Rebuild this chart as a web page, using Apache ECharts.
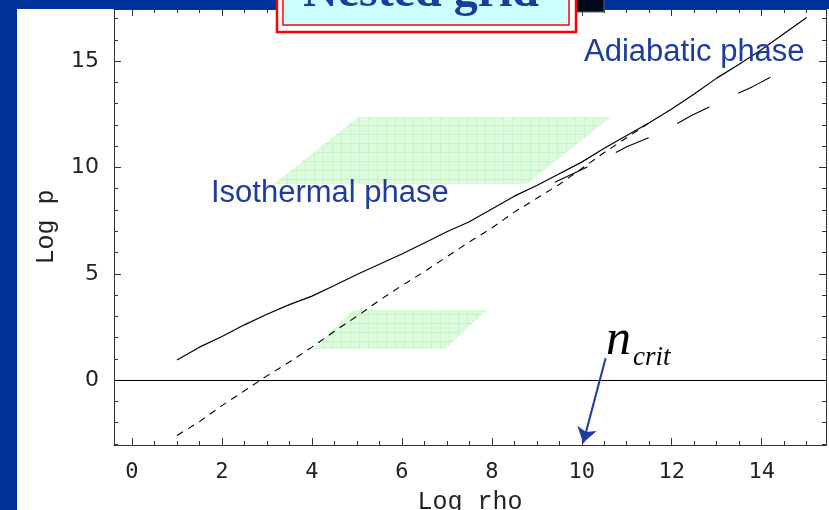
<!DOCTYPE html>
<html>
  <head>
    <meta charset="UTF-8" />
    <title>Log p vs Log rho</title>
    <script src="https://cdn.jsdelivr.net/npm/echarts@6/dist/echarts.min.js"></script>
    <style>
      body { margin: 0; background: #003399; overflow: hidden; }
      #panel { position: absolute; left: 17px; top: 9px; width: 812px; height: 501px; background: #fff; }
      #chart { position: absolute; left: 0; top: 0; width: 829px; height: 510px; }
    </style>
  </head>
  <body>
    <div id="panel"></div>
    <div id="chart"></div>
  </body>
  <script>
// ---- data ----
const rhoSolid = [1, 1.5, 2, 2.5, 3, 3.5, 4, 4.5, 5, 5.5, 6, 6.5, 7, 7.5, 8, 8.5, 9, 9.5, 10, 10.5, 11, 11.5, 12, 12.5, 13, 13.5, 14, 14.5, 15];
const pSolid = [0.95, 1.55, 2.05, 2.6, 3.1, 3.55, 3.95, 4.45, 4.97, 5.45, 5.93, 6.45, 6.98, 7.45, 8.05, 8.65, 9.15, 9.7, 10.25, 10.9, 11.5, 12.1, 12.75, 13.45, 14.2, 14.85, 15.55, 16.3, 17.05];

const rhoDash = [1, 1.5, 2, 2.5, 3, 3.5, 4, 4.5, 5, 5.5, 6, 6.5, 7, 7.5, 8, 8.5, 9, 9.5, 10, 10.5, 11, 11.5];
const pDash = [-2.6, -1.95, -1.2, -0.5, 0.2, 0.85, 1.55, 2.3, 3.0, 3.75, 4.45, 5.1, 5.8, 6.5, 7.15, 7.9, 8.55, 9.2, 9.95, 10.7, 11.4, 12.1];

const rhoLong = [9.4, 10.2, 11.0, 11.75, 12.45, 13.1, 13.8, 14.5];
const pLong = [9.3, 10.1, 10.97, 11.62, 12.45, 13.12, 13.8, 14.58];

const xLabels = [0, 2, 4, 6, 8, 10, 12, 14];
const xMinor = [0, 0.5, 1, 1.5, 2, 2.5, 3, 3.5, 4, 4.5, 5, 5.5, 6, 6.5, 7, 7.5, 8, 8.5, 9, 9.5, 10, 10.5, 11, 11.5, 12, 12.5, 13, 13.5, 14, 14.5, 15];
const yLabels = [0, 5, 10, 15];
const yMinor = [-3, -2, -1, 0, 1, 2, 3, 4, 5, 6, 7, 8, 9, 10, 11, 12, 13, 14, 15, 16, 17];
const nCrit = 10;

const zip = (a, b) => a.map((v, i) => [v, b[i]]);

// light green checked fill for the two grid sketches
const pat = document.createElement('canvas');
pat.width = 9; pat.height = 9;
const pc = pat.getContext('2d');
pc.fillStyle = '#dcfadc';
pc.fillRect(0, 0, 9, 9);
pc.fillStyle = '#c8f2c8';
pc.fillRect(8, 0, 1, 9);
pc.fillRect(0, 8, 9, 1);

const axisColor = '#333';
const blue = '#1c3c9e';
const gridBox = { left: 114, top: 9, width: 712, height: 436, containLabel: false, outerBoundsMode: 'none' };

let myChart = echarts.init(document.getElementById('chart'));

function xAx(gi, pos, major) {
  return {
    type: 'value', gridIndex: gi, position: pos, min: -0.4, max: 15.43,
    axisLine: { show: major, onZero: false, lineStyle: { color: axisColor, width: 1 } },
    axisTick: { show: true, inside: true, length: major ? 7 : 4, customValues: major ? xLabels : xMinor, lineStyle: { color: axisColor } },
    axisLabel: { show: major && pos === 'bottom', customValues: xLabels, margin: 16, fontFamily: 'DejaVu Sans Mono', fontSize: 22, color: '#222' },
    splitLine: { show: false },
    name: major && pos === 'bottom' ? 'Log rho' : '',
    nameLocation: 'middle', nameGap: 45,
    nameTextStyle: { fontFamily: 'Liberation Mono', fontSize: 25, color: '#222' }
  };
}
function yAx(gi, pos, major) {
  return {
    type: 'value', gridIndex: gi, position: pos, min: -3.05, max: 17.45,
    axisLine: { show: major, onZero: false, lineStyle: { color: axisColor, width: 1 } },
    axisTick: { show: true, inside: true, length: major ? 7 : 4, customValues: major ? yLabels : yMinor, lineStyle: { color: axisColor } },
    axisLabel: { show: major && pos === 'left', customValues: yLabels, margin: 15, fontFamily: 'DejaVu Sans', fontSize: 22, color: '#222' },
    splitLine: { show: false },
    name: major && pos === 'left' ? 'Log p' : '',
    nameLocation: 'middle', nameGap: 55,
    nameTextStyle: { fontFamily: 'Liberation Mono', fontSize: 25, color: '#222' }
  };
}

myChart.setOption({
  animation: false,
  grid: [Object.assign({}, gridBox), Object.assign({}, gridBox)],
  xAxis: [xAx(0, 'bottom', true), xAx(0, 'top', true), xAx(1, 'bottom', false), xAx(1, 'top', false)],
  yAxis: [yAx(0, 'left', true), yAx(0, 'right', true), yAx(1, 'left', false), yAx(1, 'right', false)],
  series: [
    {
      type: 'line', xAxisIndex: 0, yAxisIndex: 0, data: zip(rhoSolid, pSolid),
      symbol: 'none', lineStyle: { color: '#000', width: 1.2 },
      markLine: {
        silent: true, symbol: ['none', 'none'], label: { show: false },
        lineStyle: { color: '#000', width: 1, type: 'solid' },
        data: [{ yAxis: 0 }]
      }
    },
    {
      type: 'line', xAxisIndex: 0, yAxisIndex: 0, data: zip(rhoDash, pDash),
      symbol: 'none', lineStyle: { color: '#000', width: 1.1, type: [7, 6] }
    },
    {
      type: 'line', xAxisIndex: 0, yAxisIndex: 0, data: zip(rhoLong, pLong),
      symbol: 'none', lineStyle: { color: '#000', width: 1.1, type: [36, 32] }
    },
    {
      type: 'line', xAxisIndex: 0, yAxisIndex: 0, data: [],
      markLine: {
        silent: true, symbol: ['none', 'arrow'], symbolSize: 15, label: { show: false },
        lineStyle: { color: blue, width: 2, type: 'solid' },
        data: [[{ coord: [10.53, 1.03] }, { coord: [nCrit + 0.03, -2.95] }]]
      }
    }
  ],
  graphic: [
    { type: 'polygon', z: 1, shape: { points: [[358, 117], [611, 117], [527, 184], [274, 184]] }, style: { fill: { image: pat, repeat: 'repeat' } } },
    { type: 'polygon', z: 1, shape: { points: [[353, 310], [487, 310], [445, 349], [313, 349]] }, style: { fill: { image: pat, repeat: 'repeat' } } },
    { type: 'text', z: 10, left: 211, top: 178, style: { text: 'Isothermal phase', fontFamily: 'Liberation Sans', fontSize: 31, fill: blue } },
    { type: 'text', z: 10, left: 584, top: 37, style: { text: 'Adiabatic phase', fontFamily: 'Liberation Sans', fontSize: 31, fill: blue } },
    { type: 'text', z: 10, left: 606, top: 316, style: { text: 'n', fontFamily: 'Liberation Serif', fontStyle: 'italic', fontSize: 50, fill: '#000' } },
    { type: 'text', z: 10, left: 633, top: 344, style: { text: 'crit', fontFamily: 'Liberation Serif', fontStyle: 'italic', fontSize: 27, fill: '#000' } },
    { type: 'rect', z: 99, shape: { x: 570, y: -6, width: 34, height: 18 }, style: { fill: '#020a1c', stroke: '#55607a', lineWidth: 1 } },
    { type: 'rect', z: 100, shape: { x: 277, y: -10, width: 299, height: 42 }, style: { fill: '#ffffff', stroke: '#ff0000', lineWidth: 2.5 } },
    { type: 'rect', z: 101, shape: { x: 283, y: -10, width: 286, height: 35 }, style: { fill: '#ccffff', stroke: '#ff0000', lineWidth: 1.5 } },
    { type: 'text', z: 102, x: 421, y: -6, style: { text: 'Nested grid', fontFamily: 'Liberation Serif', fontWeight: 'bold', fontSize: 48, fill: blue, align: 'center', verticalAlign: 'middle' } }
  ]
});
  </script>
</html>
